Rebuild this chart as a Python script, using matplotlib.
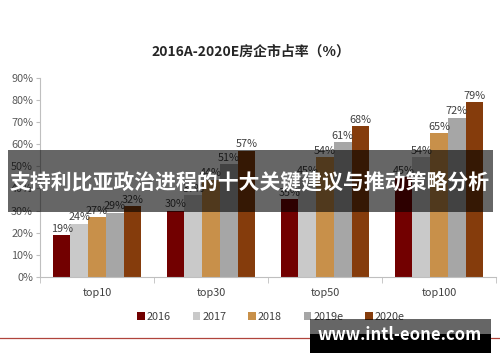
import matplotlib
matplotlib.use('Agg')
import matplotlib.pyplot as plt
from matplotlib.patches import Rectangle
import numpy as np

plt.rcParams['font.family'] = ['Noto Sans CJK SC', 'DejaVu Sans']

groups = ['top10', 'top30', 'top50', 'top100']
series = ['2016', '2017', '2018', '2019e', '2020e']
values = {
    '2016': [19, 30, 35, 45],
    '2017': [24, 37, 45, 54],
    '2018': [27, 44, 54, 65],
    '2019e': [29, 51, 61, 72],
    '2020e': [32, 57, 68, 79],
}
colors = ['#720000', '#C9C9C9', '#C8904A', '#A6A6A6', '#853C0C']
yticks = [0, 10, 20, 30, 40, 50, 60, 70, 80, 90]

fig = plt.figure(figsize=(5, 3.62), dpi=100)
ax = fig.add_axes([0.08, 0.2348, 0.912, 0.5506])

x = np.arange(len(groups))
w = 0.155
for i, s in enumerate(series):
    bars = ax.bar(x + (i - 2) * w, values[s], w, color=colors[i], label=s)
    ax.bar_label(bars, labels=[f'{v}%' for v in values[s]], padding=1,
                 fontsize=7.8, color='#404040')

ax.set_xlim(-0.5, len(groups) - 0.5)
ax.set_ylim(0, 90)
ax.set_yticks(yticks)
ax.set_yticklabels([f'{t}%' for t in yticks], fontsize=7.8, color='#595959')
ax.set_xticks(x)
ax.set_xticklabels(groups, fontsize=7.8, color='#404040')
ax.tick_params(axis='x', length=0, pad=8)
ax.set_xticks(np.arange(-0.5, len(groups), 1), minor=True)
ax.tick_params(axis='x', which='minor', length=4, color='#BFBFBF')
ax.tick_params(axis='y', length=3, color='#BFBFBF', pad=2)
for sp in ['top', 'right']:
    ax.spines[sp].set_visible(False)
ax.spines['left'].set_color('#BFBFBF')
ax.spines['bottom'].set_color('#BFBFBF')

fig.text(0.502, 1 - 52 / 362, '2016A-2020E房企市占率（%）', ha='center', va='center',
         fontsize=10, fontweight='bold', color='#262626')

fig.legend(loc='center', bbox_to_anchor=(0.542, 1 - 317 / 362), ncol=5, frameon=False,
           fontsize=7.8, handlelength=0.7, handleheight=0.7, handletextpad=0.2,
           columnspacing=2.0, labelcolor='#404040')

# red line near bottom
fig.add_artist(plt.Line2D([0, 1], [1 - 337.5 / 362, 1 - 337.5 / 362], color='#B0443C', lw=0.9))

# banner overlay
fig.add_artist(Rectangle((8 / 500, 1 - 212 / 362), 485 / 500, 62 / 362,
                         transform=fig.transFigure, color='black', alpha=0.6,
                         lw=0, zorder=10))
fig.text(0.5, 1 - 182 / 362, '支持利比亚政治进程的十大关键建议与推动策略分析', ha='center',
         va='center', fontsize=15, fontweight='bold', color='white', zorder=11)

# watermark box
fig.add_artist(Rectangle((310 / 500, 1 - 334 / 362), 181 / 500, 15 / 362,
                         transform=fig.transFigure, color='black', alpha=0.6,
                         lw=0, zorder=10))
fig.add_artist(Rectangle((310 / 500, 1 - 353 / 362), 181 / 500, 19 / 362,
                         transform=fig.transFigure, color='black',
                         lw=0, zorder=10))
fig.text(400 / 500, 1 - 335 / 362, 'www.intl-eone.com', ha='center', va='center',
         fontsize=12, fontweight='bold', color='white', zorder=11)

fig.savefig('out.png', dpi=100)
